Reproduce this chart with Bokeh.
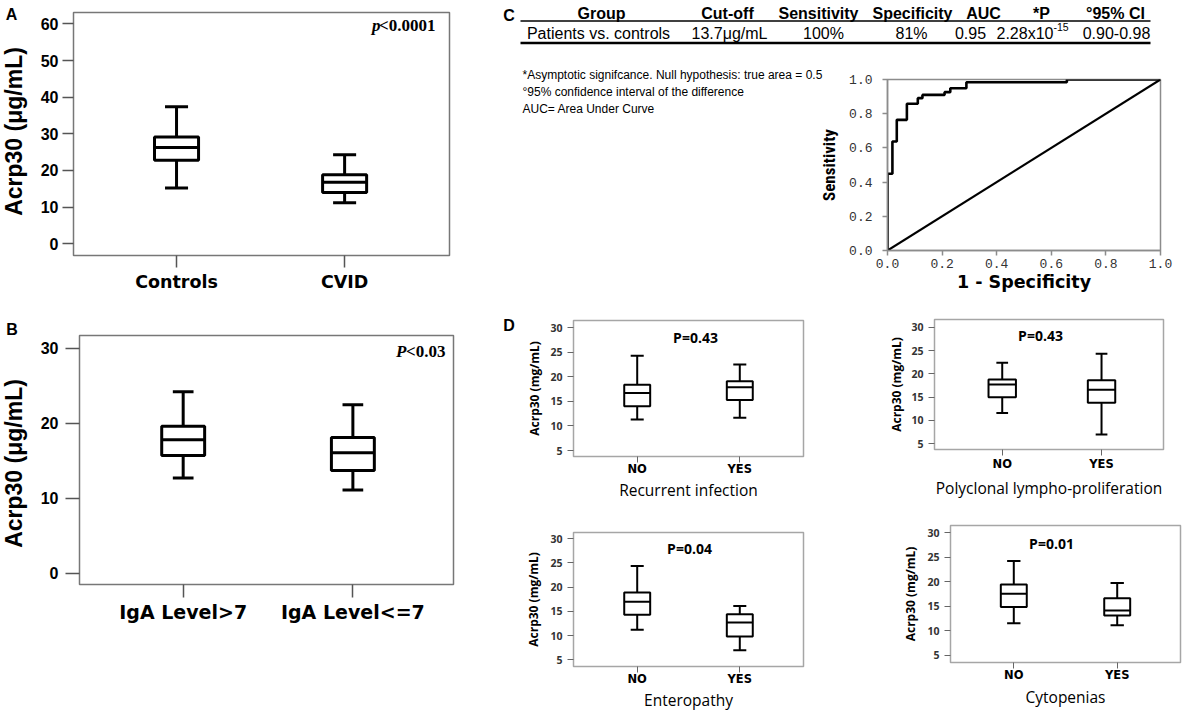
import math
from bokeh.plotting import figure
from bokeh.layouts import row, column
from bokeh.models import Range1d, FixedTicker, Label, ColumnDataSource, PrintfTickFormatter
from bokeh.embed import file_html
from bokeh.resources import INLINE
from bokeh.core.properties import value

# ---------------- data ----------------
a_groups = ["Controls", "CVID"]
a_low = [15.2, 11.2]
a_q1 = [22.8, 14.0]
a_median = [26.3, 16.8]
a_q3 = [29.1, 18.8]
a_high = [37.4, 24.3]

b_groups = ["IgA Level>7", "IgA Level<=7"]
b_low = [12.7, 11.1]
b_q1 = [15.7, 13.7]
b_median = [17.8, 16.05]
b_q3 = [19.6, 18.1]
b_high = [24.2, 22.45]

d_groups = ["NO", "YES"]
rec_low = [11.3, 11.7]
rec_q1 = [14.0, 15.3]
rec_median = [16.7, 17.9]
rec_q3 = [18.4, 19.1]
rec_high = [24.3, 22.5]

poly_low = [11.6, 7.0]
poly_q1 = [15.0, 13.8]
poly_median = [17.7, 16.6]
poly_q3 = [18.8, 18.6]
poly_high = [22.4, 24.3]

ent_low = [11.2, 7.0]
ent_q1 = [14.3, 9.8]
ent_median = [17.0, 12.7]
ent_q3 = [18.9, 14.4]
ent_high = [24.4, 16.1]

cyt_low = [11.5, 11.1]
cyt_q1 = [14.8, 13.1]
cyt_median = [17.5, 14.1]
cyt_q3 = [19.4, 16.6]
cyt_high = [24.2, 19.7]

roc_fpr = [0.0, 0.0, 0.018, 0.034, 0.071, 0.111, 0.128, 0.209, 0.230, 0.289, 0.657, 1.0]
roc_tpr = [0.0, 0.449, 0.637, 0.764, 0.858, 0.891, 0.910, 0.926, 0.949, 0.984, 1.0, 1.0]
diag_x = [0.0, 1.0]
diag_y = [0.0, 1.0]
roc_ticks = [0.0, 0.2, 0.4, 0.6, 0.8, 1.0]

table_header = ["Group", "Cut-off", "Sensitivity", "Specificity", "AUC", "*P", "°95% CI"]
table_row = ["Patients vs. controls", "13.7μg/mL", "100%", "81%", "0.95", "2.28x10", "0.90-0.98"]
p_superscript = "-15"
notes = ["*Asymptotic signifcance.  Null hypothesis: true area = 0.5",
         "°95% confidence interval of the difference",
         "AUC= Area Under Curve"]
y_title_ab = "Acrp30 (μg/mL)"
y_title_d = "Acrp30 (mg/mL)"

# ---------------- helpers ----------------
SANS = "Liberation Sans"
SERIF = "Liberation Serif"
VERD = "DejaVu Sans"
OPEN = "Open Sans"
MONO = "Liberation Mono"
NARROW = "'Liberation Sans Narrow', 'Roboto Condensed', Roboto, sans-serif"


def base_fig(w, h, left, right, top, bottom, xr, yr):
    p = figure(width=w, height=h, x_range=Range1d(*xr), y_range=Range1d(*yr),
               output_backend="svg", toolbar_location=None, title=None,
               min_border_left=left, min_border_right=right,
               min_border_top=top, min_border_bottom=bottom)
    p.xgrid.visible = False
    p.ygrid.visible = False
    p.background_fill_color = "white"
    p.border_fill_color = "white"
    return p


def canvas_fig(w, h, x0, y0):
    """Axis-less panel whose data units are page pixels (y measured downwards, negated)."""
    p = figure(width=w, height=h, x_range=Range1d(x0, x0 + w), y_range=Range1d(-(y0 + h), -y0),
               output_backend="svg", toolbar_location=None, title=None,
               x_axis_location=None, y_axis_location=None,
               min_border_left=0, min_border_right=0, min_border_top=0, min_border_bottom=0)
    p.outline_line_color = None
    p.xgrid.visible = False
    p.ygrid.visible = False
    p.background_fill_color = "white"
    p.border_fill_color = "white"
    return p


def txt(p, xs, ys, texts, font, size, style="normal", align="center", angle=0.0, color="black"):
    p.text(x=xs, y=[-y for y in ys], text=texts, text_font=value(font), text_font_size=size,
           text_font_style=style, text_align=align, text_baseline="middle",
           angle=angle, text_color=color)


def box_plot(p, low, q1, med, q3, high, box_w, cap_w, lw):
    xs = [i + 1 for i in range(len(low))]
    src = ColumnDataSource(dict(
        x=xs, low=low, q1=q1, med=med, q3=q3, high=high,
        bl=[x - box_w / 2 for x in xs], br=[x + box_w / 2 for x in xs],
        cl=[x - cap_w / 2 for x in xs], cr=[x + cap_w / 2 for x in xs]))
    kw = dict(source=src, line_color="black", line_width=lw)
    p.segment(x0="x", y0="q3", x1="x", y1="high", **kw)
    p.segment(x0="x", y0="low", x1="x", y1="q1", **kw)
    p.segment(x0="cl", y0="high", x1="cr", y1="high", **kw)
    p.segment(x0="cl", y0="low", x1="cr", y1="low", **kw)
    p.quad(left="bl", right="br", bottom="q1", top="q3", fill_color="white", **kw)
    p.segment(x0="bl", y0="med", x1="br", y1="med", **kw)


def style_axes(p, groups, yticks, outline, tick_color, tick_w,
               ytick_out, ylab_font, ylab_size, ylab_color, ylab_standoff,
               xtick_out, xlab_font, xlab_size, xlab_standoff,
               ytitle=None, ytitle_font=None, ytitle_size=None, ytitle_standoff=0,
               xtitle=None, xtitle_font=None, xtitle_size=None, xtitle_standoff=0):
    p.outline_line_color = outline
    p.outline_line_width = 1.5
    ya = p.yaxis[0]
    ya.ticker = FixedTicker(ticks=yticks)
    ya.axis_line_color = None
    ya.major_tick_line_color = tick_color
    ya.major_tick_line_width = tick_w
    ya.major_tick_out = ytick_out
    ya.major_tick_in = 0
    ya.minor_tick_line_color = None
    ya.major_label_text_font = ylab_font
    ya.major_label_text_font_size = ylab_size
    ya.major_label_text_font_style = "bold"
    ya.major_label_text_color = ylab_color
    ya.major_label_standoff = ylab_standoff
    if ytitle:
        ya.axis_label = ytitle
        ya.axis_label_text_font = ytitle_font
        ya.axis_label_text_font_size = ytitle_size
        ya.axis_label_text_font_style = "bold"
        ya.axis_label_text_color = "black"
        ya.axis_label_standoff = ytitle_standoff

    xa = p.xaxis[0]
    xa.ticker = FixedTicker(ticks=[i + 1 for i in range(len(groups))])
    xa.major_label_overrides = {i + 1: g for i, g in enumerate(groups)}
    xa.axis_line_color = None
    xa.major_tick_line_color = tick_color
    xa.major_tick_line_width = tick_w
    xa.major_tick_out = xtick_out
    xa.major_tick_in = 0
    xa.minor_tick_line_color = None
    xa.major_label_text_font = xlab_font
    xa.major_label_text_font_size = xlab_size
    xa.major_label_text_font_style = "bold"
    xa.major_label_text_color = "black"
    xa.major_label_standoff = xlab_standoff
    if xtitle:
        xa.axis_label = xtitle
        xa.axis_label_text_font = xtitle_font
        xa.axis_label_text_font_size = xtitle_size
        xa.axis_label_text_font_style = "normal"
        xa.axis_label_text_color = "black"
        xa.axis_label_standoff = xtitle_standoff


def slabel(p, x, y, text, font, size, style="bold", align="center", color="black"):
    p.add_layout(Label(x=x, y=y, x_units="screen", y_units="screen", text=text,
                       text_font=font, text_font_size=size, text_font_style=style,
                       text_align=align, text_baseline="middle", text_color=color))


# ---------------- left strip (panel letters + y titles of A, B) ----------------
strip_l = canvas_fig(35, 716, 0, 0)
txt(strip_l, [11, 11.5], [14, 329], ["A", "B"], SANS, "16px", style="bold")
txt(strip_l, [13, 13], [131, 463], [y_title_ab, y_title_ab], SANS, "23px", style="bold",
    angle=math.pi / 2)

# ---------------- panel A ----------------
pa = base_fig(425, 295, 38, 11, 12, 40, (0.387, 2.624), (-3.2, 63.1))
box_plot(pa, a_low, a_q1, a_median, a_q3, a_high, 0.262, 0.137, 3)
style_axes(pa, a_groups, [0, 10, 20, 30, 40, 50, 60], "#777777", "#555555", 1.5,
           11, SANS, "16px", "black", 4,
           12, VERD, "17.5px", 4)
slabel(pa, 362, 230, "<0.0001", SERIF, "17px", align="right")
slabel(pa, 307, 230, "p", SERIF, "17px", style="bold italic", align="right")

# ---------------- panel B ----------------
pb = base_fig(425, 421, 44, 7, 40, 132, (0.389, 2.593), (-1.51, 31.69))
box_plot(pb, b_low, b_q1, b_median, b_q3, b_high, 0.253, 0.122, 3)
style_axes(pb, b_groups, [0, 10, 20, 30], "#777777", "#555555", 1.5,
           14, SANS, "16px", "black", 7,
           13, VERD, "19px", 3)
slabel(pb, 366, 233, "<0.03", SERIF, "17px", align="right")
slabel(pb, 327, 233, "P", SERIF, "17px", style="bold italic", align="right")

# ---------------- panel C: table ----------------
pt = canvas_fig(732, 63, 460, 0)
col_x = [601, 727, 818, 912, 983, 1041, 1115]
row_x = [598, 729, 823, 911, 970, 996, 1116]
txt(pt, col_x, [12.5] * len(col_x), table_header, SANS, "16px", style="bold")
txt(pt, [row_x[i] for i in (0, 1, 2, 3, 4, 6)], [32.5] * 6,
    [table_row[i] for i in (0, 1, 2, 3, 4, 6)], SANS, "16px")
txt(pt, [row_x[5]], [32.5], [table_row[5]], SANS, "16px", align="left")
txt(pt, [row_x[5] + 57], [26], [p_superscript], SANS, "10.5px", align="left")
pt.segment(x0=[520], y0=[-20.5], x1=[1150], y1=[-20.5], line_color="black", line_width=1.3)
pt.segment(x0=[520], y0=[-42.5], x1=[1150], y1=[-42.5], line_color="black", line_width=2.6)
txt(pt, [508.5], [15], ["C"], SANS, "16px", style="bold")

# ---------------- panel C: notes + ROC ----------------
pn = canvas_fig(385, 237, 460, 63)
txt(pn, [522, 522, 522], [74, 91, 108], notes, SANS, "12px", align="left")
txt(pn, [828], [164.5], ["Sensitivity"], NARROW, "17px", style="bold", angle=math.pi / 2)

pr = base_fig(347, 237, 42, 32, 16, 50, (0, 1), (0, 1))
pr.outline_line_color = "#8c8c8c"
pr.outline_line_width = 1.5
pr.step(x=roc_fpr, y=roc_tpr, mode="after", line_color="black", line_width=2.6)
pr.line(x=diag_x, y=diag_y, line_color="black", line_width=2.2)
for ax in (pr.xaxis[0], pr.yaxis[0]):
    ax.ticker = FixedTicker(ticks=roc_ticks)
    ax.formatter = PrintfTickFormatter(format="%.1f")
    ax.axis_line_color = "#8c8c8c"
    ax.axis_line_width = 1.5
    ax.major_tick_line_color = "#8c8c8c"
    ax.major_tick_line_width = 1.5
    ax.major_tick_out = 5
    ax.major_tick_in = 0
    ax.minor_tick_line_color = None
    ax.major_label_text_font = MONO
    ax.major_label_text_font_size = "13px"
    ax.major_label_text_color = "#333333"
pr.yaxis[0].major_label_standoff = 10
pr.xaxis[0].major_label_standoff = 3
pr.xaxis[0].axis_label = "1 - Specificity"
pr.xaxis[0].axis_label_text_font = VERD
pr.xaxis[0].axis_label_text_font_size = "17.5px"
pr.xaxis[0].axis_label_text_font_style = "bold"
pr.xaxis[0].axis_label_text_color = "black"
pr.xaxis[0].axis_label_standoff = 1

# ---------------- panel D ----------------
strip_d = canvas_fig(62, 416, 460, 300)
txt(strip_d, [508.5], [325], ["D"], SANS, "16px", style="bold")


def d_panel(w, h, left, right, top, bottom, xr, yr, low, q1, med, q3, high, box_w, cap_w,
            ytitle_stand, xlab_stand, xtitle, xtitle_stand, pval, px, py):
    p = base_fig(w, h, left, right, top, bottom, xr, yr)
    box_plot(p, low, q1, med, q3, high, box_w, cap_w, 2)
    style_axes(p, d_groups, [5, 10, 15, 20, 25, 30], "#a6a6a6", "#666666", 1,
               6, OPEN, "10.5px", "#333333", 5,
               6, VERD, "11.5px", xlab_stand,
               y_title_d, OPEN, "12px", ytitle_stand,
               xtitle, OPEN, "15.5px", xtitle_stand)
    slabel(p, px, py, pval, OPEN, "14px")
    return p


d1 = d_panel(318, 206, 51, 37, 20, 50, (0.379, 2.621), (3.78, 31.49),
             rec_low, rec_q1, rec_median, rec_q3, rec_high, 0.253, 0.127,
             4, -1, "Recurrent infection", 0, "P=0.43", 122, 119)
d3 = d_panel(318, 210, 51, 37, 26, 50, (0.379, 2.621), (3.63, 31.29),
             ent_low, ent_q1, ent_median, ent_q3, ent_high, 0.253, 0.127,
             5, -1, "Enteropathy", 0, "P=0.04", 116, 118)
d2 = d_panel(352, 203, 94, 29, 19, 54, (0.318, 2.624), (3.78, 31.65),
             poly_low, poly_q1, poly_median, poly_q3, poly_high, 0.276, 0.118,
             3, 1, "Polyclonal lympho-proliferation", 3, "P=0.43", 106, 114)
d4 = d_panel(352, 213, 110, 12, 22, 54, (0.388, 2.612), (3.51, 31.43),
             cyt_low, cyt_q1, cyt_median, cyt_q3, cyt_high, 0.251, 0.129,
             5, -1, "Cytopenias", 1, "P=0.01", 101, 119)


def solo(p):
    return row(p)


left_part = row(solo(strip_l), column(solo(pa), solo(pb)))
right_part = column(solo(pt),
                    row(solo(pn), solo(pr)),
                    row(solo(strip_d), column(solo(d1), solo(d3)), column(solo(d2), solo(d4))))
layout = row(left_part, right_part)

open("out.html", "w").write(file_html(layout, INLINE))
